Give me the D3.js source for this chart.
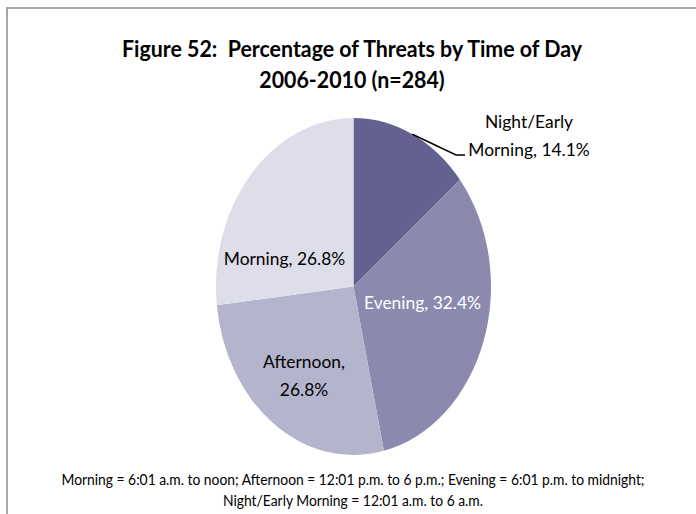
<!DOCTYPE html>
<html>
<head>
<meta charset="utf-8">
<script src="https://cdn.jsdelivr.net/npm/d3@7"></script>
<style>
  html, body { margin: 0; padding: 0; background: #fff; }
  svg { display: block; }
  text { font-family: Lato, "Open Sans", sans-serif; white-space: pre; }
</style>
</head>
<body>
<svg id="chart" width="696" height="514"></svg>
<script>
// Share of threats by time of day, 2006-2010 (n=284)
const categories = ["Night/Early Morning", "Evening", "Afternoon", "Morning"];
const values = [14.1, 32.4, 26.8, 26.8];
const colors = ["#62618f", "#8b8aae", "#b5b4cd", "#dedeea"];
const titleLines = ["Figure 52:  Percentage of Threats by Time of Day", "2006-2010 (n=284)"];
const noteLines = [
  "Morning = 6:01 a.m. to noon; Afternoon = 12:01 p.m. to 6 p.m.; Evening = 6:01 p.m. to midnight;",
  "Night/Early Morning = 12:01 a.m. to 6 a.m."
];

const W = 696, H = 514;
const svg = d3.select("#chart");

// squeeze a block of lines horizontally by one common factor so that
// the first line spans the given width (keeps a narrow, Calibri-like face)
function condense(tspans, firstWidth) {
  const nodes = tspans.nodes();
  const f = firstWidth / nodes[0].getComputedTextLength();
  nodes.forEach(n => {
    const len = n.getComputedTextLength();
    d3.select(n).attr("textLength", len * f).attr("lengthAdjust", "spacingAndGlyphs");
  });
}

// chart frame (top and left edges are visible)
svg.append("path")
  .attr("d", `M7,${H} L7,8 L${W},8`)
  .attr("fill", "none")
  .attr("stroke", "#8a8a8a")
  .attr("stroke-width", 1.5);

// title
const title = svg.append("text")
  .attr("text-anchor", "middle")
  .attr("font-weight", "bold")
  .attr("font-size", 22)
  .attr("fill", "#000");
titleLines.forEach((t, i) => {
  title.append("tspan").attr("x", 352).attr("y", 57 + i * 31).text(t);
});
condense(title.selectAll("tspan"), 460);

// pie: circular layout stretched vertically into an ellipse
const cx = 353.5, cy = 286.5, rx = 137.5, ry = 168.5;
const sy = ry / rx;
const pie = d3.pie().sort(null).value(d => d)(values);
const arc = d3.arc().innerRadius(0).outerRadius(rx);
const g = svg.append("g").attr("transform", `translate(${cx},${cy})`);
g.append("g").attr("transform", `scale(1,${sy})`)
  .selectAll("path")
  .data(pie)
  .join("path")
  .attr("d", arc)
  .attr("fill", (d, i) => colors[i]);

// slice labels
const pct = v => v.toFixed(1) + "%";
const labelText = [
  ["Night/Early", "Morning, " + pct(values[0])],
  [categories[1] + ", " + pct(values[1])],
  [categories[2] + ",", pct(values[2])],
  [categories[3] + ", " + pct(values[3])]
];
const labelPos = [
  { x: 175.5, y: -150.5, fill: "#000" },
  { x: 69, y: 16.5, fill: "#fff" },
  { x: -49.5, y: 89.5, fill: "#000" },
  { x: -69, y: -27.5, fill: "#000" }
];
const lineGap = 28;
const labelSpans = [];
labelText.forEach((lines, i) => {
  const p = labelPos[i];
  const t = g.append("text")
    .attr("text-anchor", "middle")
    .attr("font-size", 18)
    .attr("fill", p.fill);
  const y0 = p.y - (lines.length - 1) * lineGap / 2;
  lines.forEach((s, k) => {
    labelSpans.push(t.append("tspan").attr("x", p.x).attr("y", y0 + k * lineGap).attr("dy", "0.36em").text(s).node());
  });
});
// the Evening label sets the common squeeze for all slice labels
const evening = labelSpans.splice(2, 1)[0];
condense(d3.selectAll([evening, ...labelSpans]), 117);

// leader line for the narrow night slice
const edge = d3.arc().innerRadius(rx).outerRadius(rx).centroid(pie[0]);
svg.append("path")
  .attr("d", d3.line()([
    [cx + edge[0], cy + edge[1] * sy],
    [456, 155],
    [465, 155]
  ]))
  .attr("fill", "none")
  .attr("stroke", "#000")
  .attr("stroke-width", 1.5);

// footnote
const note = svg.append("text")
  .attr("text-anchor", "middle")
  .attr("font-size", 14.5)
  .attr("fill", "#000");
noteLines.forEach((t, i) => {
  note.append("tspan").attr("x", 353).attr("y", 485 + i * 21).text(t);
});
condense(note.selectAll("tspan"), 583);
</script>
</body>
</html>
